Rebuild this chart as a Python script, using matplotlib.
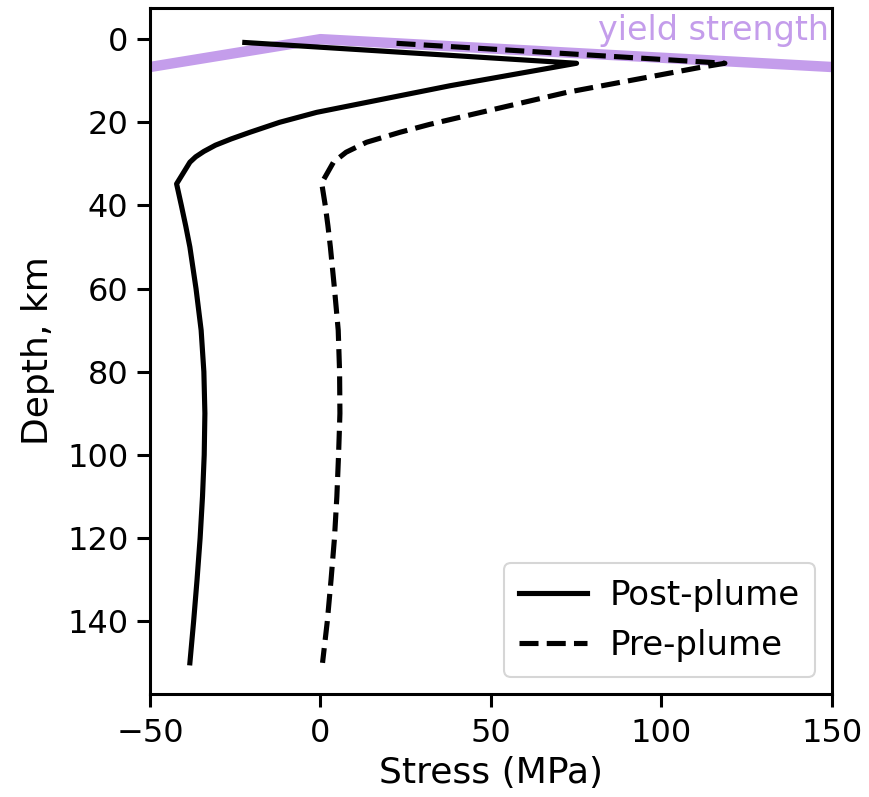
import matplotlib
matplotlib.use("Agg")
import matplotlib.pyplot as plt

# Yield strength envelope
yield_stress = [-50, 0, 150]
yield_depth = [6.7, 0.0, 6.7]

# Post-plume stress profile
post_depth = [0.8, 5.8, 11.2, 17.6, 20.0, 22.4, 24.0, 25.5, 27.0, 28.3, 29.6, 34.8,
              40, 45, 50, 60, 70, 80, 90, 100, 110, 120, 130, 140, 150]
post_stress = [-22.2, 75.1, 38.0, -1.1, -12.0, -20.7, -26.2, -30.8, -34.2, -36.6, -38.3, -42.2,
               -40.8, -39.5, -38.3, -36.5, -35.0, -34.2, -33.9, -34.1, -34.6, -35.3, -36.2, -37.2, -38.3]

# Pre-plume stress profile
pre_depth = [1.0, 5.8, 6.8, 12.8, 18.4, 20.5, 22.4, 24.8, 27.2, 29.6, 34.6,
             40, 45, 50, 60, 70, 80, 90, 100, 110, 120, 130, 140, 150]
pre_stress = [22.3, 118.6, 111.3, 72.2, 42.9, 32.0, 23.3, 13.5, 7.5, 3.8, 0.35,
              1.4, 2.2, 2.9, 4.1, 5.2, 5.6, 5.7, 5.3, 4.8, 4.1, 3.1, 2.0, 0.6]

purple = '#c49deb'

fig = plt.figure(figsize=(8.69, 7.97), dpi=100)
ax = fig.add_axes([0.1726, 0.1292, 0.7848, 0.8608])

ax.plot(yield_stress, yield_depth, color=purple, lw=7.5, solid_capstyle='butt', zorder=1)
ax.plot(post_stress, post_depth, color='black', lw=3.7, ls='-', label='Post-plume', zorder=3)
ax.plot(pre_stress, pre_depth, color='black', lw=3.7, ls='--', label='Pre-plume', zorder=3)

ax.text(149, 0.3, 'yield strength', color=purple, fontsize=24, ha='right', va='baseline')

ax.set_xlim(-50, 150)
ax.set_ylim(157.5, -7.5)
ax.set_xticks([-50, 0, 50, 100, 150])
ax.set_yticks([0, 20, 40, 60, 80, 100, 120, 140])
ax.set_xlabel('Stress (MPa)', fontsize=26, labelpad=5)
ax.set_ylabel('Depth, km', fontsize=26, labelpad=9)
ax.tick_params(labelsize=23, length=9.4, width=2.2, pad=6)
ax.tick_params(axis='x', pad=8)
for s in ax.spines.values():
    s.set_linewidth(2.2)

leg = ax.legend(loc='lower right', fontsize=24.5, handlelength=2.0, borderpad=0.45,
                labelspacing=0.5, handletextpad=0.65, borderaxespad=0.5)
leg.get_frame().set_linewidth(1.5)

fig.savefig('out.png', dpi=100)
